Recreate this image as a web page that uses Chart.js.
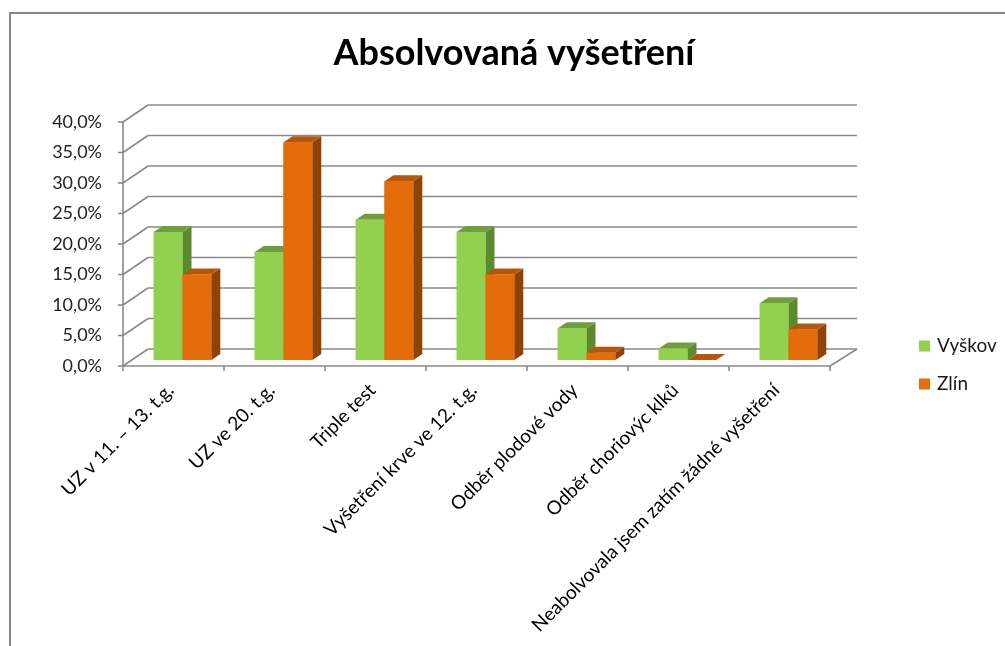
<!DOCTYPE html>
<html>
<head>
<meta charset="utf-8">
<script src="https://cdn.jsdelivr.net/npm/chart.js@4.4.0/dist/chart.umd.min.js"></script>
<style>
  html, body { margin: 0; padding: 0; background: #fff; }
  #wrap { width: 1005px; height: 646px; position: relative; }
</style>
</head>
<body>
<div id="wrap"><canvas id="graf" width="1005" height="646"></canvas></div>
<script>
// data (percent)
var kategorie = ["UZ v 11. – 13. t.g.", "UZ ve 20. t.g.", "Triple test", "Vyšetření krve ve 12. t.g.",
	"Odběr plodové vody", "Odběr choriovýc klků", "Neabolvovala jsem zatím žádné vyšetření"]
var vyskov = [21.0, 17.7, 23.0, 21.0, 5.2, 1.9, 9.3]
var zlin = [14.0, 35.7, 29.3, 14.0, 1.2, 0.0, 5.0]
var yMax = 40
var yStep = 5
var nadpis = "Absolvovaná vyšetření"

var FONT = "Lato, 'Noto Sans', sans-serif"
var GRID = "#8a8a8a"
// colours: front, top, side
var barvy = [
	["#92d050", "#6f9e3d", "#5c8a2e"],
	["#e46c0a", "#b65608", "#8e4205"]
]
// 3D offsets relative to the plane the bars stand in
var DEPTH = { dx: 9, dy: -6 }
var FRONT = { dx: -9, dy: 6 }
var BACK = { dx: 16, dy: -11 }

function procenta(v) {
	return v.toFixed(1).replace(".", ",") + "%"
}

function line(ctx, x1, y1, x2, y2) {
	ctx.beginPath()
	ctx.moveTo(x1, y1)
	ctx.lineTo(x2, y2)
	ctx.stroke()
}

function poly(ctx, pts, color) {
	ctx.beginPath()
	ctx.moveTo(pts[0][0], pts[0][1])
	for (var i = 1; i < pts.length; i++) ctx.lineTo(pts[i][0], pts[i][1])
	ctx.closePath()
	ctx.fillStyle = color
	ctx.fill()
}

var ramecek = {
	id: "ramecek",
	beforeDraw: function(chart) {
		var ctx = chart.ctx
		ctx.save()
		ctx.strokeStyle = "#868686"
		ctx.lineWidth = 2
		ctx.beginPath()
		ctx.moveTo(10, 646)
		ctx.lineTo(10, 13)
		ctx.lineTo(1005, 13)
		ctx.stroke()
		// title, centred on the whole chart like in Excel
		ctx.fillStyle = "#000"
		ctx.font = "bold 36px " + FONT
		ctx.textAlign = "center"
		ctx.textBaseline = "middle"
		ctx.fillText(nadpis, 514, 53)
		ctx.restore()
	}
}

var steny = {
	id: "steny",
	beforeDatasetsDraw: function(chart) {
		var ctx = chart.ctx
		var a = chart.chartArea
		var y = chart.scales.y
		ctx.save()
		ctx.strokeStyle = GRID
		ctx.lineWidth = 1.6
		for (var v = 0; v <= yMax; v += yStep) {
			var py = y.getPixelForValue(v)
			// back wall
			line(ctx, a.left + BACK.dx, py + BACK.dy, a.right + BACK.dx + 2, py + BACK.dy)
			// left wall
			line(ctx, a.left + FRONT.dx, py + FRONT.dy, a.left + BACK.dx, py + BACK.dy)
			// tick on the front axis
			line(ctx, a.left + FRONT.dx - 5, py + FRONT.dy, a.left + FRONT.dx, py + FRONT.dy)
		}
		var p0 = y.getPixelForValue(0)
		// floor right edge
		line(ctx, a.right + FRONT.dx, p0 + FRONT.dy, a.right + BACK.dx + 2, p0 + BACK.dy)
		// front axes
		line(ctx, a.left + FRONT.dx, y.getPixelForValue(yMax) + FRONT.dy, a.left + FRONT.dx, p0 + FRONT.dy)
		line(ctx, a.left + FRONT.dx, p0 + FRONT.dy, a.right + FRONT.dx, p0 + FRONT.dy)
		var sirka = (a.right - a.left) / kategorie.length
		for (var i = 0; i <= kategorie.length; i++) {
			var px = a.left + FRONT.dx + i * sirka
			line(ctx, px, p0 + FRONT.dy, px, p0 + FRONT.dy + 5)
		}
		ctx.restore()
	},
	afterDatasetsDraw: function(chart) {
		var ctx = chart.ctx
		ctx.save()
		for (var i = 0; i < kategorie.length; i++) {
			for (var d = 0; d < chart.data.datasets.length; d++) {
				var el = chart.getDatasetMeta(d).data[i]
				var b = barvy[d]
				var l = el.x - el.width / 2
				var r = el.x + el.width / 2
				var t = el.y
				var z = el.base
				// side
				poly(ctx, [[r, t], [r + DEPTH.dx, t + DEPTH.dy], [r + DEPTH.dx, z + DEPTH.dy], [r, z]], b[2])
				// top
				poly(ctx, [[l, t], [l + DEPTH.dx, t + DEPTH.dy], [r + DEPTH.dx, t + DEPTH.dy], [r, t]], b[1])
				// front
				ctx.fillStyle = b[0]
				ctx.fillRect(l, t, r - l, z - t)
			}
		}
		ctx.restore()
	}
}

var legenda = {
	id: "legenda",
	afterDraw: function(chart) {
		var ctx = chart.ctx
		var yy = [346, 384]
		ctx.save()
		ctx.font = "19px " + FONT
		ctx.textBaseline = "middle"
		ctx.textAlign = "left"
		for (var d = 0; d < chart.data.datasets.length; d++) {
			ctx.fillStyle = barvy[d][0]
			ctx.fillRect(919, yy[d] - 5.5, 11, 11)
			ctx.fillStyle = "#1a1a1a"
			ctx.fillText(chart.data.datasets[d].label, 937, yy[d])
		}
		ctx.restore()
	}
}

new Chart(document.getElementById("graf"), {
	type: "bar",
	data: {
		labels: kategorie,
		datasets: [
			{ label: "Vyškov", data: vyskov, backgroundColor: barvy[0][0] },
			{ label: "Zlín", data: zlin, backgroundColor: barvy[1][0] }
		]
	},
	options: {
		responsive: false,
		animation: false,
		events: [],
		categoryPercentage: 0.57,
		barPercentage: 1.0,
		layout: { padding: { left: 32, right: 166, top: 116, bottom: 0 } },
		plugins: {
			legend: { display: false },
			tooltip: { enabled: false },
			title: { display: false }
		},
		scales: {
			y: {
				min: 0,
				max: yMax,
				border: { display: false },
				grid: { display: false, drawTicks: false },
				ticks: {
					stepSize: yStep,
					padding: 30,
					labelOffset: 6,
					color: "#222",
					font: { family: FONT, size: 18 },
					callback: function(v) { return procenta(v) }
				},
				afterFit: function(s) { s.width = 100 }
			},
			x: {
				border: { display: false },
				grid: { display: false, drawTicks: false },
				ticks: {
					minRotation: 45,
					maxRotation: 45,
					autoSkip: false,
					padding: 19,
					labelOffset: -12,
					color: "#000",
					font: { family: FONT, size: 19 }
				},
				afterFit: function(s) { s.height = 286 }
			}
		}
	},
	plugins: [ramecek, steny, legenda]
})
</script>
</body>
</html>
